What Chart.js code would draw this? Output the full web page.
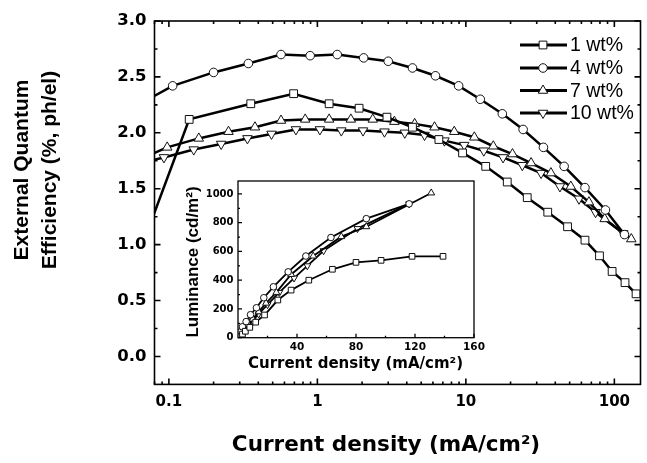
<!DOCTYPE html>
<html>
<head>
<meta charset="utf-8">
<script src="https://cdn.jsdelivr.net/npm/chart.js@4.4.1/dist/chart.umd.min.js"></script>
<style>
  html, body { margin: 0; padding: 0; background: #fff; }
  #wrap { position: relative; width: 647px; height: 463px; overflow: hidden; }
  #main { position: absolute; left: 0; top: 0; }
  #inset { position: absolute; left: 170px; top: 170px; }
</style>
</head>
<body>
<div id="wrap">
  <canvas id="main" width="647" height="463"></canvas>
  <canvas id="inset" width="340" height="210"></canvas>
</div>
<script>
// EQE vs current density for four doping levels, inset = luminance
const seriesNames = ['1 wt%', '4 wt%', '7 wt%', '10 wt%'];
const markerStyles = ['rect', 'circle', 'triangle', 'triangle'];
const markerRotation = [0, 0, 0, 180];

// main plot (current density mA/cm2, EQE %)
const j1 = [0.07, 0.137, 0.356, 0.692, 1.2, 1.91, 2.94, 4.37, 6.58, 9.5, 13.6, 19.0, 25.9, 35.6, 48.4, 63.4, 79.4, 96.6, 118, 140];
const eqe1 = [1.08, 2.12, 2.26, 2.35, 2.26, 2.22, 2.14, 2.05, 1.94, 1.82, 1.70, 1.56, 1.42, 1.29, 1.16, 1.04, 0.90, 0.76, 0.66, 0.56];

const j4 = [0.06, 0.106, 0.2, 0.343, 0.569, 0.894, 1.36, 2.05, 3.0, 4.37, 6.24, 8.94, 12.5, 17.6, 24.3, 33.3, 45.9, 63.4, 87.1, 117];
const eqe4 = [2.24, 2.42, 2.54, 2.62, 2.70, 2.69, 2.70, 2.67, 2.64, 2.58, 2.51, 2.42, 2.30, 2.17, 2.03, 1.87, 1.70, 1.51, 1.31, 1.09];

const j7 = [0.06, 0.0974, 0.159, 0.252, 0.38, 0.569, 0.828, 1.2, 1.68, 2.36, 3.3, 4.52, 6.15, 8.35, 11.4, 15.3, 20.6, 27.5, 37.4, 50.9, 67.4, 86.1, 130];
const eqe7 = [1.75, 1.87, 1.95, 2.01, 2.05, 2.11, 2.12, 2.12, 2.12, 2.12, 2.10, 2.08, 2.05, 2.01, 1.96, 1.88, 1.81, 1.73, 1.64, 1.52, 1.38, 1.23, 1.05];

const j10 = [0.06, 0.0926, 0.147, 0.225, 0.338, 0.491, 0.717, 1.04, 1.45, 2.03, 2.83, 3.88, 5.27, 7.17, 9.75, 13.2, 17.8, 24.0, 32.1, 43.0, 57.8, 74.7, 115];
const eqe10 = [1.72, 1.78, 1.85, 1.90, 1.95, 1.99, 2.03, 2.03, 2.02, 2.02, 2.01, 2.00, 1.98, 1.93, 1.89, 1.84, 1.78, 1.71, 1.64, 1.52, 1.41, 1.29, 1.10];

// inset (current density mA/cm2, luminance cd/m2)
const ij1 = [1, 3, 5, 8, 12, 18, 27, 36, 48, 64, 80, 97, 118, 139];
const lum1 = [8, 25, 45, 72, 108, 158, 262, 331, 400, 476, 524, 538, 566, 566];
const ij4 = [0.5, 1.5, 3, 5.5, 8.5, 12.5, 17.5, 24, 34, 46, 63, 87, 116];
const lum4 = [12, 40, 76, 112, 160, 208, 278, 354, 458, 568, 697, 828, 931];
const ij7 = [1, 2.5, 4.5, 7, 10, 14, 19, 26, 36, 51, 70, 87, 131];
const lum7 = [8, 28, 58, 92, 130, 180, 240, 315, 440, 568, 703, 772, 1007];
const ij10 = [1, 2.5, 4.5, 7, 10, 14, 20, 28, 38, 47, 58, 81, 116];
const lum10 = [5, 22, 50, 82, 118, 165, 230, 315, 415, 500, 605, 759, 931];

// tick labels
const xTicks = [0.1, 1, 10, 100];
const yTicks = [0, 0.5, 1.0, 1.5, 2.0, 2.5, 3.0];
const insetXTicks = [40, 80, 120, 160];
const insetYTicks = [0, 200, 400, 600, 800, 1000];

const pts = (xs, ys) => xs.map((x, i) => ({ x: x, y: ys[i] }));

function makeSets(pairs, lw, radii) {
    return pairs.map((p, i) => ({
        label: seriesNames[i],
        data: pts(p[0], p[1]),
        borderColor: '#000',
        borderWidth: lw,
        pointStyle: markerStyles[i],
        pointRotation: markerRotation[i],
        pointRadius: radii[i],
        pointBackgroundColor: '#fff',
        pointBorderColor: '#111',
        pointBorderWidth: 1,
        tension: 0,
        fill: false
    }));
}

// frame + inward ticks
function framePlugin(cfg) {
    return {
        id: 'frame',
        afterDatasetsDraw(chart) {
            const { ctx, chartArea: a, scales: { x, y } } = chart;
            ctx.save();
            ctx.strokeStyle = '#000';
            ctx.lineWidth = cfg.lw;
            ctx.strokeRect(a.left, a.top, a.right - a.left, a.bottom - a.top);
            ctx.beginPath();
            const xs = (vals, len) => vals.forEach(v => {
                const px = x.getPixelForValue(v);
                if (px < a.left - 0.5 || px > a.right + 0.5) return;
                ctx.moveTo(px, a.bottom); ctx.lineTo(px, a.bottom - len);
                if (cfg.mirror) { ctx.moveTo(px, a.top); ctx.lineTo(px, a.top + len); }
            });
            const ys = (vals, len) => vals.forEach(v => {
                const py = y.getPixelForValue(v);
                if (py < a.top - 0.5 || py > a.bottom + 0.5) return;
                ctx.moveTo(a.left, py); ctx.lineTo(a.left + len, py);
                if (cfg.mirror) { ctx.moveTo(a.right, py); ctx.lineTo(a.right - len, py); }
            });
            xs(cfg.xMajor, cfg.major); xs(cfg.xMinor, cfg.minor);
            ys(cfg.yMajor, cfg.major); ys(cfg.yMinor, cfg.minor);
            ctx.stroke();
            ctx.restore();
        }
    };
}

// log minor ticks 2..9 per decade
const logMinor = [];
[0.01, 0.1, 1, 10, 100].forEach(d => { for (let k = 2; k <= 9; k++) logMinor.push(d * k); });

const mainSets = makeSets([[j1, eqe1], [j4, eqe4], [j7, eqe7], [j10, eqe10]], 2.5, [5.5, 4.3, 5.5, 5.5]);

const mainText = {
    id: 'mainText',
    afterDraw(chart) {
        const ctx = chart.ctx;
        ctx.save();
        ctx.fillStyle = '#000';
        // x title
        ctx.font = 'bold 21.5px "DejaVu Sans"';
        ctx.textAlign = 'center';
        ctx.textBaseline = 'alphabetic';
        ctx.fillText('Current density (mA/cm²)', 386, 451);
        // y title
        ctx.save();
        ctx.translate(36, 170);
        ctx.rotate(-Math.PI / 2);
        ctx.font = 'bold 21px "Liberation Sans"';
        ctx.textBaseline = 'middle';
        ctx.fillText('External Quantum', 0, -14);
        ctx.fillText('Efficiency (%, ph/el)', 0, 14);
        ctx.restore();
        // legend
        const rows = [45, 68, 90.5, 113];
        ctx.font = '19.5px "Liberation Sans"';
        ctx.textAlign = 'left';
        ctx.textBaseline = 'middle';
        chart.data.datasets.forEach((ds, i) => {
            const yy = rows[i];
            ctx.strokeStyle = '#000';
            ctx.lineWidth = 3;
            ctx.beginPath();
            ctx.moveTo(520, yy); ctx.lineTo(567, yy);
            ctx.stroke();
            ctx.fillStyle = '#fff';
            ctx.strokeStyle = '#111';
            ctx.lineWidth = 1;
            Chart.helpers.drawPoint(ctx, {
                pointStyle: ds.pointStyle, rotation: ds.pointRotation,
                radius: ds.pointRadius, borderWidth: 1
            }, 543, yy);
            ctx.fillStyle = '#000';
            ctx.fillText(ds.label, 570, yy + 1);
        });
        ctx.restore();
    }
};

new Chart(document.getElementById('main'), {
    type: 'line',
    data: { datasets: mainSets },
    options: {
        responsive: false,
        animation: false,
        devicePixelRatio: 1,
        layout: { padding: { top: 21, right: 2, left: 0, bottom: 0 } },
        plugins: { legend: { display: false }, tooltip: { enabled: false } },
        scales: {
            x: {
                type: 'logarithmic',
                min: 0.08, max: 150,
                grid: { display: false, drawTicks: false },
                border: { display: false },
                afterBuildTicks: s => { s.ticks = xTicks.map(v => ({ value: v })); },
                afterFit: s => { s.height = 78.6; },
                ticks: {
                    autoSkip: false, maxRotation: 0, padding: 8.5, color: '#000',
                    font: { family: 'DejaVu Sans', weight: 'bold', size: 15 },
                    callback: v => String(v)
                }
            },
            y: {
                min: -0.25, max: 3.0,
                grid: { display: false, drawTicks: false },
                border: { display: false },
                afterBuildTicks: s => { s.ticks = yTicks.map(v => ({ value: v })); },
                afterFit: s => { s.width = 154.5; },
                ticks: {
                    padding: 8, color: '#000',
                    font: { family: 'DejaVu Sans', weight: 'bold', size: 16.5 },
                    callback: v => v.toFixed(1)
                }
            }
        }
    },
    plugins: [framePlugin({
        lw: 1.6, major: 6, minor: 3, mirror: true,
        xMajor: xTicks, xMinor: logMinor,
        yMajor: yTicks, yMinor: [0.25, 0.75, 1.25, 1.75, 2.25, 2.75]
    }), mainText]
});

// inset chart
const insetSets = makeSets([[ij1, lum1], [ij4, lum4], [ij7, lum7], [ij10, lum10]], 1.8, [4, 3.3, 4, 4]);

const insetText = {
    id: 'insetText',
    afterDraw(chart) {
        const ctx = chart.ctx;
        ctx.save();
        ctx.fillStyle = '#000';
        ctx.font = 'bold 15px "DejaVu Sans"';
        ctx.textAlign = 'center';
        ctx.textBaseline = 'alphabetic';
        ctx.fillText('Current density (mA/cm²)', 355.5 - 170, 367.5 - 170);
        ctx.translate(193 - 170, 262 - 170);
        ctx.rotate(-Math.PI / 2);
        ctx.font = 'bold 17px "Liberation Sans"';
        ctx.textBaseline = 'middle';
        ctx.fillText('Luminance (cd/m²)', 0, 0);
        ctx.restore();
    }
};

new Chart(document.getElementById('inset'), {
    type: 'line',
    data: { datasets: insetSets },
    options: {
        responsive: false,
        animation: false,
        devicePixelRatio: 1,
        layout: { padding: { top: 11, right: 36, left: 0, bottom: 0 } },
        plugins: { legend: { display: false }, tooltip: { enabled: false } },
        scales: {
            x: {
                type: 'linear',
                min: 0, max: 160,
                grid: { display: false, drawTicks: false },
                border: { display: false },
                afterBuildTicks: s => { s.ticks = insetXTicks.map(v => ({ value: v })); },
                afterFit: s => { s.height = 42.3; },
                ticks: {
                    autoSkip: false, maxRotation: 0, padding: 3.5, color: '#000',
                    font: { family: 'DejaVu Sans', weight: 'bold', size: 10.5 },
                    callback: v => String(v)
                }
            },
            y: {
                min: 0, max: 1090,
                grid: { display: false, drawTicks: false },
                border: { display: false },
                afterBuildTicks: s => { s.ticks = insetYTicks.map(v => ({ value: v })); },
                afterFit: s => { s.width = 68; },
                ticks: {
                    padding: 4.5, color: '#000',
                    font: { family: 'DejaVu Sans', weight: 'bold', size: 10 },
                    callback: v => String(v)
                }
            }
        }
    },
    plugins: [framePlugin({
        lw: 1.3, major: 4, minor: 2, mirror: false,
        xMajor: insetXTicks, xMinor: [20, 60, 100, 140],
        yMajor: insetYTicks, yMinor: [100, 300, 500, 700, 900]
    }), insetText]
});
</script>
</body>
</html>
